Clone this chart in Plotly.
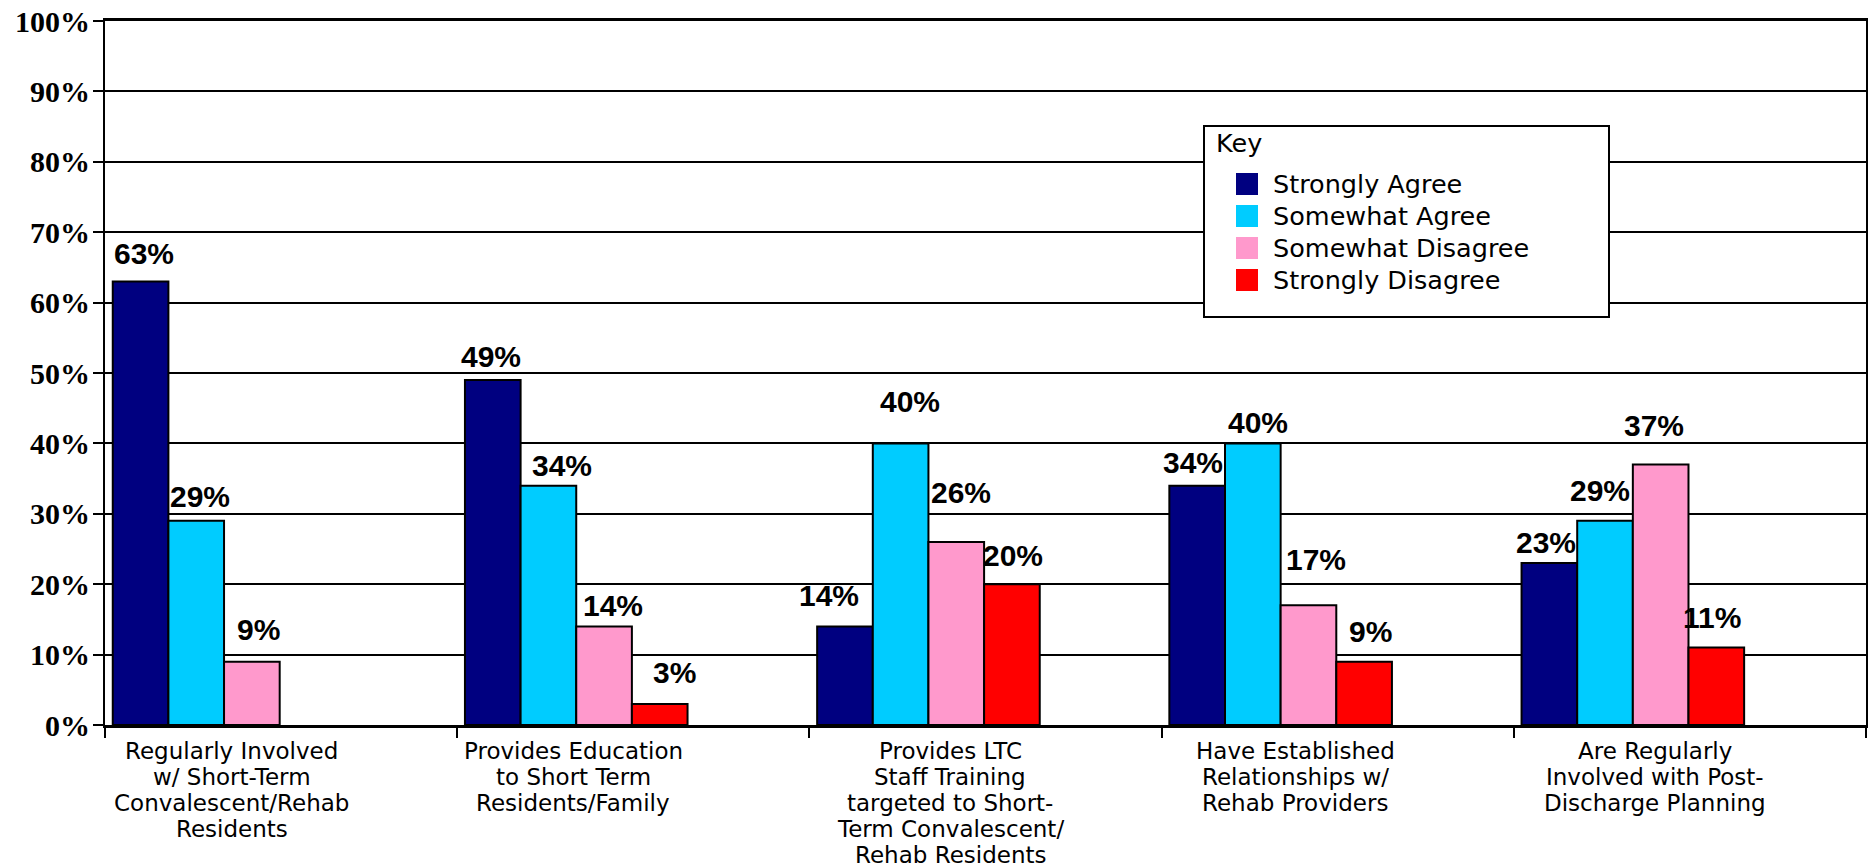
import plotly.graph_objects as go

# ---------------- data ----------------
categories = [
    "Regularly Involved w/ Short-Term Convalescent/Rehab Residents",
    "Provides Education to Short Term Residents/Family",
    "Provides LTC Staff Training targeted to Short-Term Convalescent/ Rehab Residents",
    "Have Established Relationships w/ Rehab Providers",
    "Are Regularly Involved with Post-Discharge Planning",
]
category_label_lines = [
    ["Regularly Involved", "w/ Short-Term", "Convalescent/Rehab", "Residents"],
    ["Provides Education", "to Short Term", "Residents/Family"],
    ["Provides LTC", "Staff Training", "targeted to Short-", "Term Convalescent/", "Rehab Residents"],
    ["Have Established", "Relationships w/", "Rehab Providers"],
    ["Are Regularly", "Involved with Post-", "Discharge Planning"],
]
series_names = ["Strongly Agree", "Somewhat Agree", "Somewhat Disagree", "Strongly Disagree"]
strongly_agree = [63, 49, 14, 34, 23]
somewhat_agree = [29, 34, 40, 40, 29]
somewhat_disagree = [9, 14, 26, 17, 37]
strongly_disagree = [None, 3, 20, 9, 11]
series_values = [strongly_agree, somewhat_agree, somewhat_disagree, strongly_disagree]
y_tick_values = [0, 10, 20, 30, 40, 50, 60, 70, 80, 90, 100]
y_tick_text = [f"{v}%" for v in y_tick_values]
legend_title = "Key"

# ---------------- styles / layout ----------------
colors = ["#000080", "#00CCFF", "#FF99CC", "#FF0000"]
bar_width = 0.158
first_offset = -0.478
# per-label nudges (pixels), mimicking the hand-placed labels of the reference
label_dx = [[3, 4, 7, 0], [-2, 14, 9, 15], [-16, 9, 5, 1], [-4, 5, 8, 6], [-3, -5, -7, -4]]
label_dy = [[28, 24, 32, 0], [24, 20, 21, 31], [31, 42, 49, 29], [23, 21, 46, 30], [21, 30, 39, 30]]
cat_label_shift = [-0.14, -0.17, -0.10, -0.12, -0.10]

FIG_W, FIG_H = 1870, 868
PLOT_L, PLOT_R, PLOT_T, PLOT_B = 105, 1866, 21, 725   # plot area in window pixels


def px_to_paper_x(px):
    return (px - PLOT_L) / (PLOT_R - PLOT_L)


def px_to_paper_y(py):
    return (PLOT_B - py) / (PLOT_B - PLOT_T)


fig = go.Figure()
for j, (name, vals) in enumerate(zip(series_names, series_values)):
    fig.add_trace(go.Bar(
        x=categories, y=vals, name=name, showlegend=False,
        width=bar_width, offset=first_offset + j * bar_width,
        marker=dict(color=colors[j], line=dict(color="black", width=2)),
    ))

label_font = dict(family="Liberation Sans, Arial, sans-serif", size=30, color="black", weight="bold")
cat_font = dict(family="DejaVu Sans, Verdana, sans-serif", size=23, color="black")
legend_font = dict(family="DejaVu Sans, Verdana, sans-serif", size=25.5, color="black")

annotations = []
for i in range(len(categories)):
    for j, vals in enumerate(series_values):
        v = vals[i]
        if v is None:
            continue
        annotations.append(dict(
            x=i + first_offset + (j + 0.5) * bar_width, y=v, xref="x", yref="y",
            text=f"{v}%", showarrow=False, xanchor="center", yanchor="middle",
            xshift=label_dx[i][j], yshift=label_dy[i][j], font=label_font,
        ))
    for k, line in enumerate(category_label_lines[i]):
        annotations.append(dict(
            x=i + cat_label_shift[i], y=0, xref="x", yref="paper", text=line, showarrow=False,
            xanchor="center", yanchor="middle", yshift=-26 - 26 * k, font=cat_font,
        ))

# ---- legend ("Key" box) ----
shapes = [dict(type="rect", xref="paper", yref="paper",
               x0=px_to_paper_x(1204), x1=px_to_paper_x(1609),
               y0=px_to_paper_y(317), y1=px_to_paper_y(126),
               line=dict(color="black", width=2), fillcolor="white", layer="above")]
annotations.append(dict(
    x=px_to_paper_x(1214), y=px_to_paper_y(143), xref="paper", yref="paper",
    text=legend_title, showarrow=False, xanchor="left", yanchor="middle", font=legend_font,
))
for j, name in enumerate(series_names):
    cy = 184 + 32 * j
    shapes.append(dict(type="rect", xref="paper", yref="paper",
                       x0=px_to_paper_x(1236), x1=px_to_paper_x(1258),
                       y0=px_to_paper_y(cy + 11), y1=px_to_paper_y(cy - 11),
                       line=dict(width=0), fillcolor=colors[j], layer="above"))
    annotations.append(dict(
        x=px_to_paper_x(1271), y=px_to_paper_y(cy), xref="paper", yref="paper",
        text=name, showarrow=False, xanchor="left", yanchor="middle", font=legend_font,
    ))

fig.update_layout(
    width=FIG_W, height=FIG_H,
    margin=dict(l=PLOT_L, r=FIG_W - PLOT_R, t=PLOT_T, b=FIG_H - PLOT_B),
    paper_bgcolor="white", plot_bgcolor="white",
    barmode="overlay", showlegend=False,
    annotations=annotations, shapes=shapes,
    xaxis=dict(
        type="category", range=[-0.5, 4.5], showticklabels=False, showgrid=False,
        showline=True, linecolor="black", linewidth=3, mirror=True,
        ticks="outside", tickson="boundaries", ticklen=10, tickwidth=2, tickcolor="black",
        automargin=False,
    ),
    yaxis=dict(
        range=[0, 100], tickvals=y_tick_values, ticktext=y_tick_text,
        showgrid=True, gridcolor="black", gridwidth=2, zeroline=False,
        showline=True, linecolor="black", linewidth=2, mirror=True,
        ticks="outside", ticklen=10, tickwidth=2, tickcolor="black",
        ticklabelstandoff=-3, automargin=False, ticklabeloverflow="allow",
        tickfont=dict(family="Liberation Serif, Times New Roman, serif", size=30, color="black", weight="bold"),
    ),
)

# remove the default 8px page margin so the 1870x868 figure fills the window exactly
fig.write_html("out.html", config={"displayModeBar": False},
               post_script="document.body.style.margin='0';")
